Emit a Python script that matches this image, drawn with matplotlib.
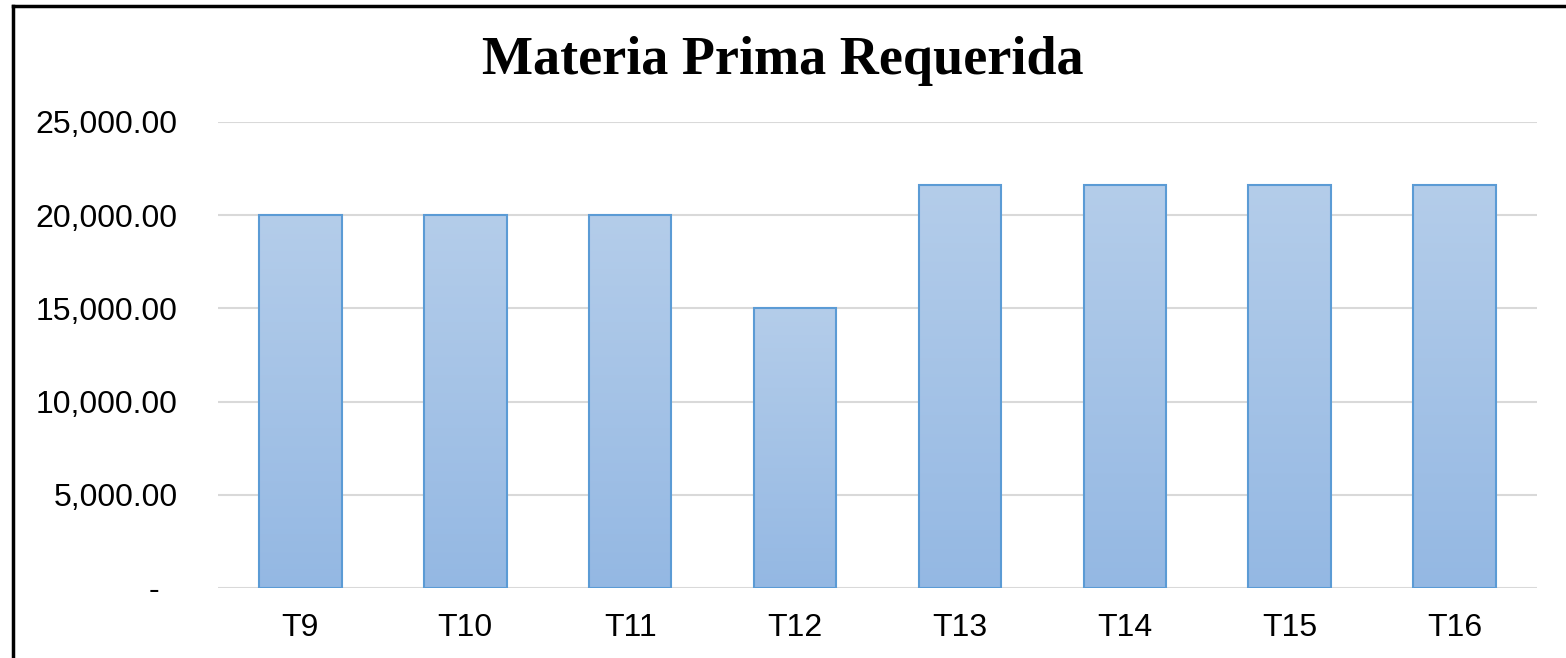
import numpy as np
import matplotlib.pyplot as plt
from matplotlib.lines import Line2D
from matplotlib.ticker import FuncFormatter
from matplotlib.colors import LinearSegmentedColormap

# datos del grafico
periodos = ["T9", "T10", "T11", "T12", "T13", "T14", "T15", "T16"]
materia_prima = [20000, 20000, 20000, 15000, 21600, 21600, 21600, 21600]
marcas_y = [0, 5000, 10000, 15000, 20000, 25000]

fig = plt.figure(figsize=(15.66, 6.58), dpi=100)
ax = fig.add_axes([0.1392, 0.1064, 0.8423, 0.7082])

x = np.arange(len(periodos))
barras = ax.bar(x, materia_prima, width=0.5, color="none",
                edgecolor="#5b9bd5", linewidth=1.5, zorder=3)

# relleno degradado dentro de cada barra
grad = np.linspace(0, 1, 256).reshape(-1, 1)
cmap = LinearSegmentedColormap.from_list("azul", ["#94b8e3", "#b4cdea"])
for b in barras:
    x0, y0 = b.get_x(), b.get_y()
    w, h = b.get_width(), b.get_height()
    im = ax.imshow(grad, cmap=cmap, aspect="auto", origin="lower",
                   extent=[x0, x0 + w, y0, y0 + h], zorder=2)
    im.set_clip_path(b)

ax.set_xlim(-0.5, len(periodos) - 0.5)
ax.set_ylim(0, 25000)
ax.set_xticks(x)
ax.set_xticklabels(periodos)
ax.set_yticks(marcas_y)


def formato(v, pos):
    if v == 0:
        return "-  "
    return f"{v:,.2f}"


ax.yaxis.set_major_formatter(FuncFormatter(formato))
ax.grid(axis="y", color="#d9d9d9", linewidth=1.5, zorder=0)
for s in ax.spines.values():
    s.set_visible(False)
ax.tick_params(axis="both", length=0, labelsize=23,
               labelfontfamily="Liberation Sans")
ax.tick_params(axis="y", pad=29)
ax.tick_params(axis="x", pad=18)

fig.text(0.5, 0.907, "Materia Prima Requerida", ha="center", va="center",
         fontsize=39, fontweight="bold", family="Liberation Serif")

# marco del grafico
fig.add_artist(Line2D([13 / 1566, 13 / 1566], [0, 1 - 6 / 658],
                      color="black", linewidth=2.5))
fig.add_artist(Line2D([13 / 1566, 1], [1 - 6 / 658, 1 - 6 / 658],
                      color="black", linewidth=2.5))

fig.savefig("out.png", dpi=100)
